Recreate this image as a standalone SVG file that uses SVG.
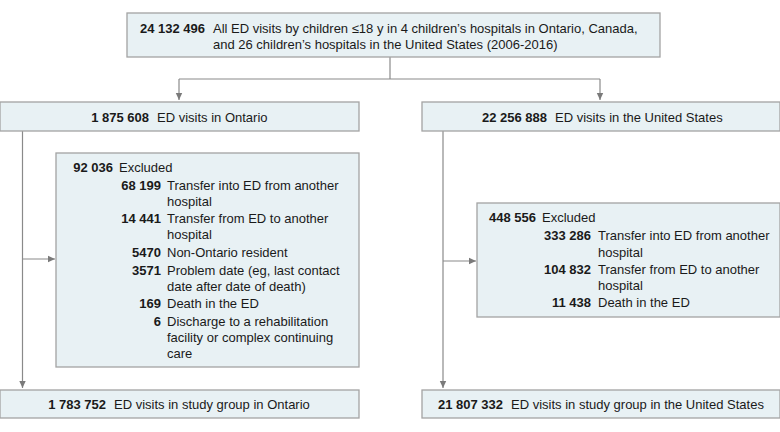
<svg xmlns="http://www.w3.org/2000/svg" width="780" height="432" viewBox="0 0 780 432">
<defs>
<marker id="ah" markerWidth="8" markerHeight="8" refX="7" refY="4" orient="auto" markerUnits="userSpaceOnUse">
<path d="M0,0.8 L7,4 L0,7.2 Z" fill="#7a7a7a"/>
</marker>
<style>
.box{fill:#e8f1f4;stroke:#a3a3a3;stroke-width:1.3}
.ln{fill:none;stroke:#8a8a8a;stroke-width:1.2}
text{font-family:"Liberation Sans",Arial,sans-serif;font-size:13px;fill:#1a1a1a}
.b{font-weight:bold}
.e{text-anchor:end}
.m{text-anchor:middle}
</style>
</defs>
<rect width="780" height="432" fill="#ffffff"/>
<g id="connectors">
<path class="ln" d="M390,57 V79"/>
<path class="ln" d="M179,79 H600"/>
<path class="ln" d="M179,79 V100" marker-end="url(#ah)"/>
<path class="ln" d="M600,79 V100" marker-end="url(#ah)"/>
<path class="ln" d="M22.5,131 V388" marker-end="url(#ah)"/>
<path class="ln" d="M22.5,259 H55" marker-end="url(#ah)"/>
<path class="ln" d="M443,131 V388" marker-end="url(#ah)"/>
<path class="ln" d="M443,261 H476" marker-end="url(#ah)"/>
</g>
<g id="top">
<rect class="box" x="127" y="13" width="533" height="44"/>
<text x="205" y="33" class="b e">24 132 496</text>
<text x="213" y="33">All ED visits by children ≤18 y in 4 children’s hospitals in Ontario, Canada,</text>
<text x="213" y="49">and 26 children’s hospitals in the United States (2006-2016)</text>
</g>
<g id="ontario">
<rect class="box" x="0" y="102" width="359" height="29"/>
<text x="149" y="122" class="b e">1 875 608</text>
<text x="157" y="122">ED visits in Ontario</text>
</g>
<g id="us">
<rect class="box" x="422" y="102" width="358" height="29"/>
<text x="547" y="122" class="b e">22 256 888</text>
<text x="555" y="122">ED visits in the United States</text>
</g>
<g id="ontario-excluded">
<rect class="box" x="56" y="153" width="303" height="214"/>
<text x="113" y="172" class="b e">92 036</text>
<text x="119" y="172">Excluded</text>
<text x="161" y="190" class="b e">68 199</text>
<text x="167" y="190">Transfer into ED from another</text>
<text x="167" y="206">hospital</text>
<text x="161" y="223" class="b e">14 441</text>
<text x="167" y="223">Transfer from ED to another</text>
<text x="167" y="239">hospital</text>
<text x="161" y="257" class="b e">5470</text>
<text x="167" y="257">Non-Ontario resident</text>
<text x="161" y="275" class="b e">3571</text>
<text x="167" y="275">Problem date (eg, last contact</text>
<text x="167" y="291">date after date of death)</text>
<text x="161" y="308" class="b e">169</text>
<text x="167" y="308">Death in the ED</text>
<text x="161" y="326" class="b e">6</text>
<text x="167" y="326">Discharge to a rehabilitation</text>
<text x="167" y="342">facility or complex continuing</text>
<text x="167" y="358">care</text>
</g>
<g id="us-excluded">
<rect class="box" x="477" y="203" width="303" height="114"/>
<text x="536" y="222" class="b e">448 556</text>
<text x="542" y="222">Excluded</text>
<text x="591" y="240" class="b e">333 286</text>
<text x="598" y="240">Transfer into ED from another</text>
<text x="598" y="257" >hospital</text>
<text x="591" y="274" class="b e">104 832</text>
<text x="598" y="274">Transfer from ED to another</text>
<text x="598" y="290">hospital</text>
<text x="591" y="307" class="b e">11 438</text>
<text x="598" y="307">Death in the ED</text>
</g>
<g id="ontario-study">
<rect class="box" x="0" y="390" width="359" height="28"/>
<text x="106" y="409" class="b e">1 783 752</text>
<text x="114" y="409">ED visits in study group in Ontario</text>
</g>
<g id="us-study">
<rect class="box" x="422" y="390" width="358" height="28"/>
<text x="503" y="409" class="b e">21 807 332</text>
<text x="511" y="409">ED visits in study group in the United States</text>
</g>
</svg>
